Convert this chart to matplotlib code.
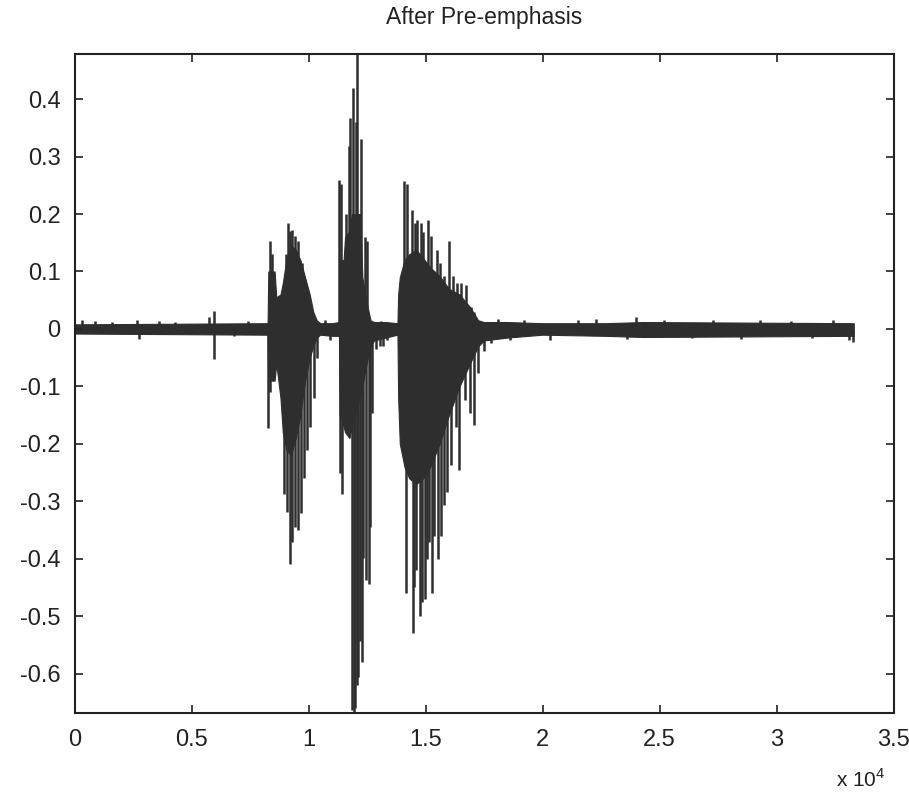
"""
Speech waveform after pre-emphasis (scanned MATLAB figure redrawn)
"""

import matplotlib

matplotlib.use("Agg")
import matplotlib.pyplot as plt

# dense part of the waveform: upper / lower envelope vs sample index
env_x = [0, 8250, 8280, 8550, 8620, 8800, 8900, 9050, 9250, 9450, 9650, 9850,
         10050, 10200, 10350, 10500, 11000, 11300, 11330, 11500, 11560, 11750,
         11850, 12200, 12300, 12480, 12650, 12800, 13300, 13800, 13830, 13900,
         14100, 14300, 14600, 14900, 15200, 15600, 16000, 16450, 16900, 17250,
         17500, 18500, 20000, 22700, 24300, 33300]
env_hi = [0.008, 0.010, 0.100, 0.100, 0.055, 0.060, 0.080, 0.120, 0.145, 0.138,
          0.120, 0.090, 0.060, 0.030, 0.015, 0.010, 0.010, 0.012, 0.120, 0.120,
          0.160, 0.170, 0.200, 0.200, 0.090, 0.046, 0.015, 0.012, 0.012, 0.010,
          0.060, 0.090, 0.120, 0.130, 0.138, 0.123, 0.107, 0.092, 0.070, 0.060,
          0.038, 0.015, 0.012, 0.012, 0.010, 0.010, 0.012, 0.010]
env_lo = [-0.008, -0.010, -0.090, -0.090, -0.060, -0.120, -0.180, -0.210, -0.220,
          -0.190, -0.150, -0.090, -0.050, -0.030, -0.015, -0.010, -0.012, -0.012,
          -0.150, -0.170, -0.180, -0.190, -0.170, -0.120, -0.100, -0.060, -0.030,
          -0.020, -0.015, -0.010, -0.120, -0.200, -0.240, -0.260, -0.270, -0.260,
          -0.240, -0.200, -0.150, -0.100, -0.060, -0.030, -0.020, -0.015, -0.010,
          -0.012, -0.014, -0.012]

# individual peaks sticking out of the envelope
spike_x = [8360, 8420, 9050, 9130, 9200, 9280, 9420, 9560, 9700,
           8280, 8350, 8950, 9080, 9200, 9280, 9400, 9570, 9680, 9800, 9920,
           10080, 10250, 10380,
           11290, 11390, 11600, 11720, 11790, 11890, 12060, 12030, 12230, 12420,
           12500,
           11350, 11420, 11850, 11930, 12000, 12050, 12130, 12190, 12300, 12340,
           12460, 12580, 12640, 12700, 12900, 13050, 13200, 13350,
           14080, 14220, 14435, 14535, 14650, 14820, 14890, 15100, 15250, 15506,
           15600, 15780, 15990, 16180, 16350, 16495, 16710, 16940, 17085,
           14170, 14450, 14500, 14600, 14780, 14840, 14985, 15050, 15160, 15260,
           15380, 15520, 15660, 15780, 15900, 16070, 16300, 16440, 16700, 16920,
           17090, 17250, 17480]
spike_y = [0.153, 0.130, 0.130, 0.184, 0.170, 0.172, 0.161, 0.153, 0.115,
           -0.172, -0.110, -0.287, -0.318, -0.410, -0.370, -0.345, -0.350,
           -0.320, -0.260, -0.210, -0.170, -0.120, -0.050,
           0.260, 0.253, 0.200, 0.318, 0.368, 0.420, 0.478, 0.360, 0.330, 0.160,
           0.153,
           -0.250, -0.287, -0.663, -0.668, -0.660, -0.620, -0.605, -0.544,
           -0.580, -0.398, -0.437, -0.444, -0.345, -0.146, -0.035, -0.030,
           -0.030, -0.020,
           0.257, 0.253, 0.207, 0.184, 0.190, 0.184, 0.168, 0.190, 0.161, 0.138,
           0.115, 0.092, 0.153, 0.092, 0.080, 0.080, 0.077, 0.038, 0.030,
           -0.460, -0.530, -0.450, -0.420, -0.500, -0.476, -0.470, -0.400,
           -0.370, -0.460, -0.360, -0.400, -0.360, -0.306, -0.283, -0.237,
           -0.170, -0.245, -0.123, -0.146, -0.168, -0.077, -0.038]

# small ticks in the background noise
noise_x = [340, 890, 1610, 2670, 2760, 3600, 4280, 5730, 5980, 5980, 6830, 7420,
           10700, 10900, 13100, 17800, 18100, 18600, 19200, 20300, 21500, 22300,
           23600, 24000, 25200, 26400, 27300, 28500, 29300, 30600, 31500, 32400,
           33100, 33250]
noise_y = [0.015, 0.014, 0.012, 0.016, -0.018, 0.014, 0.012, 0.020, 0.032, -0.052,
           -0.012, 0.013, 0.015, -0.020, 0.013, -0.025, 0.018, -0.020, 0.015,
           -0.020, 0.015, 0.018, -0.018, 0.020, 0.015, -0.015, 0.015, -0.018,
           0.015, 0.014, -0.015, 0.015, -0.020, -0.022]

x_ticks = [0, 5000, 10000, 15000, 20000, 25000, 30000, 35000]
x_tick_labels = ["0", "0.5", "1", "1.5", "2", "2.5", "3", "3.5"]
y_ticks = [-0.6, -0.5, -0.4, -0.3, -0.2, -0.1, 0, 0.1, 0.2, 0.3, 0.4]
y_tick_labels = ["-0.6", "-0.5", "-0.4", "-0.3", "-0.2", "-0.1", "0", "0.1", "0.2",
                 "0.3", "0.4"]

plt.rcParams["font.family"] = ["Liberation Sans", "DejaVu Sans"]
plt.rcParams["mathtext.fontset"] = "custom"
plt.rcParams["mathtext.rm"] = "Liberation Sans"

wave_col = "#2e2e2e"

fig = plt.figure(figsize=(9.09, 7.99), dpi=100)
ax = fig.add_axes([0.082, 0.108, 0.901, 0.824])

ax.fill_between(env_x, env_lo, env_hi, color=wave_col, linewidth=0.8,
                edgecolor=wave_col)
ax.vlines(spike_x, 0, spike_y, color=wave_col, linewidth=1.8)
ax.vlines(noise_x, 0, noise_y, color=wave_col, linewidth=1.8)

ax.set_xlim(0, 35000)
ax.set_ylim(-0.668, 0.478)
ax.set_xticks(x_ticks)
ax.set_xticklabels(x_tick_labels)
ax.set_yticks(y_ticks)
ax.set_yticklabels(y_tick_labels)
ax.tick_params(direction="in", length=6, width=1.2, top=True, right=True,
               labelsize=17, colors="#222222")
ax.tick_params(axis="x", pad=12)
ax.tick_params(axis="y", pad=10)
for sp in ax.spines.values():
    sp.set_linewidth(1.5)
    sp.set_color("#222222")

ax.set_title("After Pre-emphasis", fontsize=16.5, pad=22, color="#222222")
ax.text(0.99, -0.085, r"x 10$^{4}$", transform=ax.transAxes, ha="right",
        va="top", fontsize=15, color="#222222")

fig.savefig("out.png", dpi=100)
plt.close(fig)
